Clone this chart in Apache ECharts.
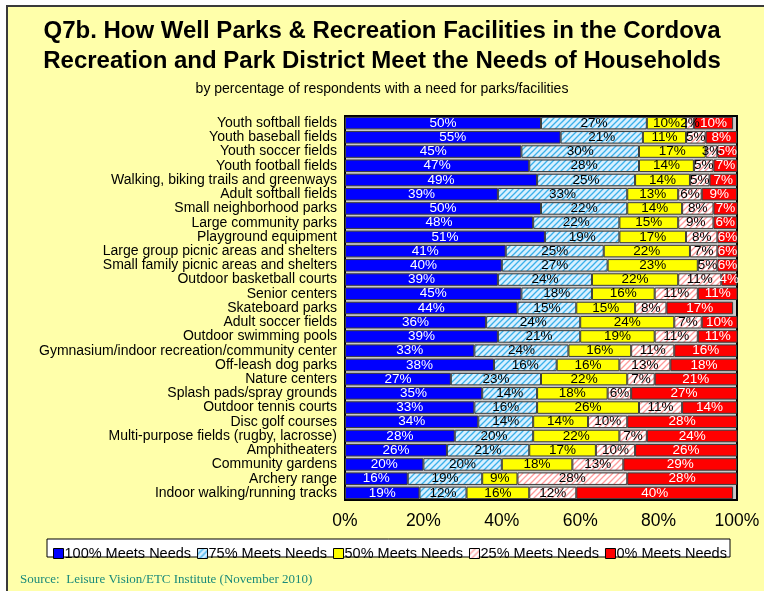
<!DOCTYPE html>
<html>
<head>
<meta charset="utf-8">
<script src="https://cdn.jsdelivr.net/npm/echarts@6/dist/echarts.min.js"></script>
<style>
  html, body { margin: 0; padding: 0; background: #ffffff; }
  #chart { width: 764px; height: 591px; }
</style>
</head>
<body>
<div id="chart"></div>
<script>
// Facilities, top to bottom
const facilities = [
  'Youth softball fields',
  'Youth baseball fields',
  'Youth soccer fields',
  'Youth football fields',
  'Walking, biking trails and greenways',
  'Adult softball fields',
  'Small neighborhood parks',
  'Large community parks',
  'Playground equipment',
  'Large group picnic areas and shelters',
  'Small family picnic areas and shelters',
  'Outdoor basketball courts',
  'Senior centers',
  'Skateboard parks',
  'Adult soccer fields',
  'Outdoor swimming pools',
  'Gymnasium/indoor recreation/community center',
  'Off-leash dog parks',
  'Nature centers',
  'Splash pads/spray grounds',
  'Outdoor tennis courts',
  'Disc golf courses',
  'Multi-purpose fields (rugby, lacrosse)',
  'Amphitheaters',
  'Community gardens',
  'Archery range',
  'Indoor walking/running tracks'
];

// Percent of households, by how well the need is met
const meets100 = [50, 55, 45, 47, 49, 39, 50, 48, 51, 41, 40, 39, 45, 44, 36, 39, 33, 38, 27, 35, 33, 34, 28, 26, 20, 16, 19];
const meets75  = [27, 21, 30, 28, 25, 33, 22, 22, 19, 25, 27, 24, 18, 15, 24, 21, 24, 16, 23, 14, 16, 14, 20, 21, 20, 19, 12];
const meets50  = [10, 11, 17, 14, 14, 13, 14, 15, 17, 22, 23, 22, 16, 15, 24, 19, 16, 16, 22, 18, 26, 14, 22, 17, 18,  9, 16];
const meets25  = [ 2,  5,  3,  5,  5,  6,  8,  9,  8,  7,  5, 11, 11,  8,  7, 11, 11, 13,  7,  6, 11, 10,  7, 10, 13, 28, 12];
const meets0   = [10,  8,  5,  7,  7,  9,  7,  6,  6,  6,  6,  4, 11, 17, 10, 11, 16, 18, 21, 27, 14, 28, 24, 26, 29, 28, 40];

const seriesNames = ['100% Meets Needs', '75% Meets Needs', '50% Meets Needs', '25% Meets Needs', '0% Meets Needs'];
const xTicks = [0, 20, 40, 60, 80, 100];

const FONT = '"Liberation Sans", Arial, sans-serif';

// Diagonal hatch fill, stripes rising to the right
function hatch(bg, line) {
  const c = document.createElement('canvas');
  c.width = 6; c.height = 6;
  const g = c.getContext('2d');
  g.fillStyle = bg;
  g.fillRect(0, 0, 6, 6);
  g.strokeStyle = line;
  g.lineWidth = 1.3;
  g.beginPath();
  g.moveTo(0, 6); g.lineTo(6, 0);
  g.moveTo(-3, 3); g.lineTo(3, -3);
  g.moveTo(3, 9); g.lineTo(9, 3);
  g.stroke();
  return { image: c, repeat: 'repeat' };
}

const fills = [
  '#0000ff',
  hatch('#d8f0ff', '#3ab0ea'),
  '#ffff00',
  hatch('#ffffff', '#ff9a9a'),
  '#ff0000'
];
const textColors = ['#ffffff', '#000000', '#000000', '#000000', '#ffffff'];
const values = [meets100, meets75, meets50, meets25, meets0];

const chart = echarts.init(document.getElementById('chart'), null, { renderer: 'canvas' });

const series = seriesNames.map((name, i) => ({
  name: name,
  type: 'bar',
  stack: 'total',
  barCategoryGap: '12%',
  data: values[i],
  itemStyle: { color: fills[i], borderColor: '#3c3c3c', borderWidth: 1 },
  label: {
    show: true,
    position: 'inside',
    formatter: p => p.value + '%',
    color: textColors[i],
    fontFamily: FONT,
    fontSize: 13.5
  },
  emphasis: { disabled: true }
}));

chart.setOption({
  animation: false,
  backgroundColor: '#ffffff',
  graphic: [
    {
      type: 'rect',
      z: -10,
      shape: { x: 7, y: 6, width: 800, height: 700 },
      style: { fill: '#ffffaa', stroke: '#3a3a3a', lineWidth: 2 }
    },
    {
      type: 'text',
      left: 'center',
      top: 16,
      style: {
        text: 'Q7b. How Well Parks & Recreation Facilities in the Cordova\nRecreation and Park District Meet the Needs of Households',
        font: 'bold 24px ' + FONT,
        fill: '#000000',
        textAlign: 'center',
        lineHeight: 30
      }
    },
    {
      type: 'text',
      left: 'center',
      top: 82,
      style: {
        text: 'by percentage of respondents with a need for parks/facilities',
        font: '14px ' + FONT,
        fill: '#000000'
      }
    },
    {
      type: 'text',
      left: 20,
      top: 573,
      style: {
        text: 'Source:  Leisure Vision/ETC Institute (November 2010)',
        font: '13px "Liberation Serif", "Times New Roman", serif',
        fill: '#1a8a7a'
      }
    },
    {
      type: 'rect',
      z: 0,
      shape: { x: 47, y: 539, width: 683, height: 18 },
      style: { fill: '#ffffff', stroke: '#000000', lineWidth: 1 }
    }
  ],
  legend: {
    data: seriesNames,
    left: 48,
    top: 541,
    itemGap: 6,
    itemWidth: 10,
    itemHeight: 10,
    icon: 'rect',
    itemStyle: { borderColor: '#000000', borderWidth: 1 },
    textStyle: { fontFamily: FONT, fontSize: 14.5, color: '#000000', padding: [0, 0, 0, -4] },
    selectedMode: false,
    z: 5
  },
  grid: {
    left: 345,
    right: 27,
    top: 116,
    bottom: 91,
    show: true,
    backgroundColor: '#c8c8c8',
    borderColor: '#000000',
    borderWidth: 2
  },
  xAxis: {
    type: 'value',
    min: xTicks[0],
    max: xTicks[xTicks.length - 1],
    interval: 20,
    axisLine: { show: false },
    axisTick: { show: false },
    splitLine: { show: false },
    axisLabel: {
      formatter: '{value}%',
      fontFamily: FONT,
      fontSize: 17.5,
      color: '#000000',
      margin: 12
    }
  },
  yAxis: {
    type: 'category',
    data: facilities,
    inverse: true,
    axisLine: { show: false },
    axisTick: { show: false },
    axisLabel: {
      fontFamily: FONT,
      fontSize: 14,
      color: '#000000',
      margin: 8,
      interval: 0
    }
  },
  series: series
});
</script>
</body>
</html>
